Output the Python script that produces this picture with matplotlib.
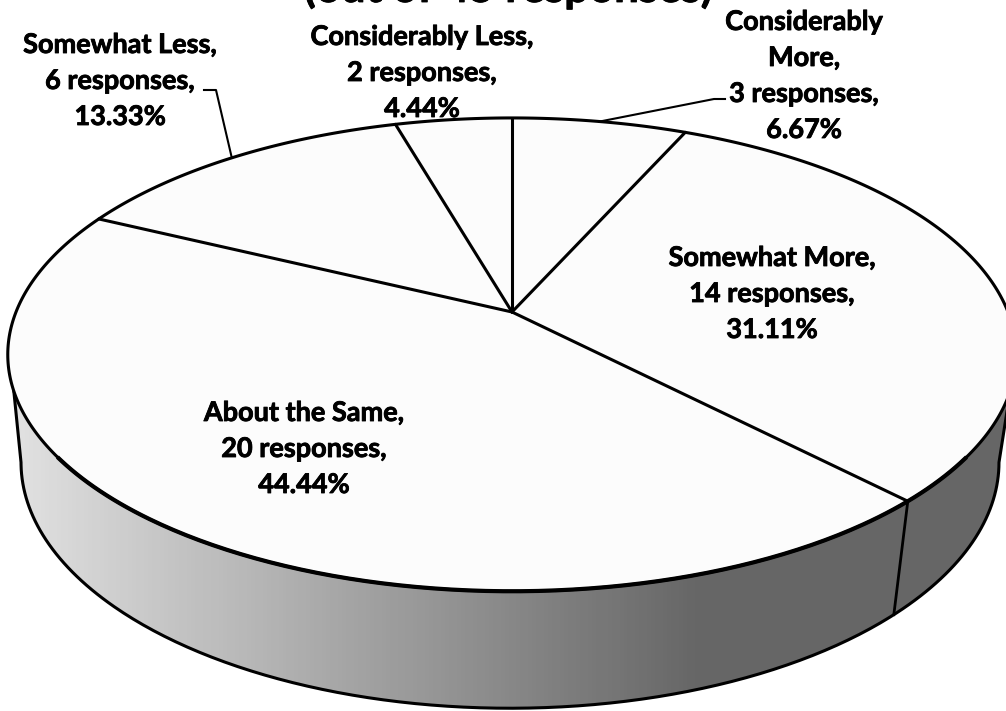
import matplotlib.pyplot as plt
import matplotlib.patheffects as pe
from matplotlib.colors import LinearSegmentedColormap
from matplotlib.patches import Polygon
import numpy as np

plt.rcParams['font.family'] = ['Lato', 'DejaVu Sans']

title = '(out of 45 responses)'
categories = ['Considerably\nMore', 'Somewhat More', 'About the Same', 'Somewhat Less', 'Considerably Less']
responses = [3, 14, 20, 6, 2]
percents = ['6.67%', '31.11%', '44.44%', '13.33%', '4.44%']

#Label centres in pixels, in the same order as categories
label_x = [804, 772, 304, 120, 422]
label_y = [76, 294, 449, 81, 73]

#Perspective of the pie, pixels. Top disc goes through the apex of the slices
cx, cy, ax_top, by_top, tilt = 512, 312, 496, 229, 0.18
cx_low, cy_low, ax_low, by_low = 510, 418, 481, 238

def rim(theta, x0, y0, a, b):
    #theta is clockwise from 12 o'clock
    u = np.sin(theta)
    v = np.cos(theta)
    return x0 + a*u/(1+tilt*v), y0 - b*v/(1+tilt*v)

def top_rim(theta):
    return rim(theta, cx, cy, ax_top, by_top)

def low_rim(theta):
    return rim(theta, cx_low, cy_low, ax_low, by_low)

fig = plt.figure(figsize=(10.06, 7.11), dpi=100)
ax = fig.add_axes([0, 0, 1, 1])
ax.set_xlim(0, 1006)
ax.set_ylim(711, 0)
ax.axis('off')

edges = 2*np.pi*np.cumsum([0]+responses)/sum(responses)

#Side wall of the pie, straight on the far left and right, gradient clipped to the band
t_top = np.deg2rad(np.linspace(109, 251, 300))
t_low = np.deg2rad(np.linspace(100.4, 259.6, 300))
xt, yt = top_rim(t_top)
xl, yl = low_rim(t_low)
side_pts = np.column_stack([np.r_[xt, xl[::-1]], np.r_[yt, yl[::-1]]])
side = Polygon(side_pts, closed=True, fc='none', ec='none')
ax.add_patch(side)
side_cmap = LinearSegmentedColormap.from_list('side', ['#e2e2e2', '#666666', '#666666'])
grad = np.linspace(0, 1, 256).reshape(1, -1)
im = ax.imshow(grad, extent=(5, 1020, 711, 0), aspect='auto', cmap=side_cmap, vmin=0, vmax=1.37, zorder=1)
im.set_clip_path(side)
ax.set_xlim(0, 1006)
ax.set_ylim(711, 0)
ax.plot(np.r_[xt[0], xl, xt[-1]], np.r_[yt[0], yl, yt[-1]], color='black', lw=2.2, zorder=2)

#Slice edge carried down the side wall
x1, y1 = top_rim(edges[2])
x2, y2 = low_rim(edges[2])
ax.plot([x1, x2], [y1, y2], color='black', lw=2.0, zorder=2)

#Top of the pie
t_all = np.linspace(0, 2*np.pi, 500)
xa, ya = top_rim(t_all)
ax.add_patch(Polygon(np.column_stack([xa, ya]), closed=True, fc='#fcfcfc', ec='black', lw=2.2, zorder=3))
xf, yf = top_rim(np.deg2rad(np.linspace(125, 235, 200)))
ax.plot(xf, yf, color='black', lw=3.0, zorder=4)
for e in edges[:-1]:
    xe, ye = top_rim(e)
    ax.plot([cx, xe], [cy, ye], color='black', lw=2.2, zorder=4, solid_capstyle='round')

#Leader lines from the middle of the two outer slices
mids = (edges[:-1]+edges[1:])/2
xm, ym = top_rim(mids[0])
ax.plot([xm, 714, 725], [ym, 99, 99], color='black', lw=1.5, zorder=5)
xm, ym = top_rim(mids[3])
ax.plot([xm, 216, 204], [ym, 90, 90], color='black', lw=1.5, zorder=5)

heavier = [pe.withStroke(linewidth=0.6, foreground='black')]
for i in range(len(categories)):
    txt = categories[i]+',\n'+str(responses[i])+' responses,\n'+percents[i]
    ax.text(label_x[i], label_y[i], txt, ha='center', va='center', fontsize=19.5,
            fontweight='bold', linespacing=1.6, color='black', zorder=6, path_effects=heavier)

ax.text(508, 2, title, ha='center', va='baseline', fontsize=31.5, fontweight='bold', color='black',
        zorder=6, path_effects=heavier)

fig.savefig('out.png', dpi=100)
